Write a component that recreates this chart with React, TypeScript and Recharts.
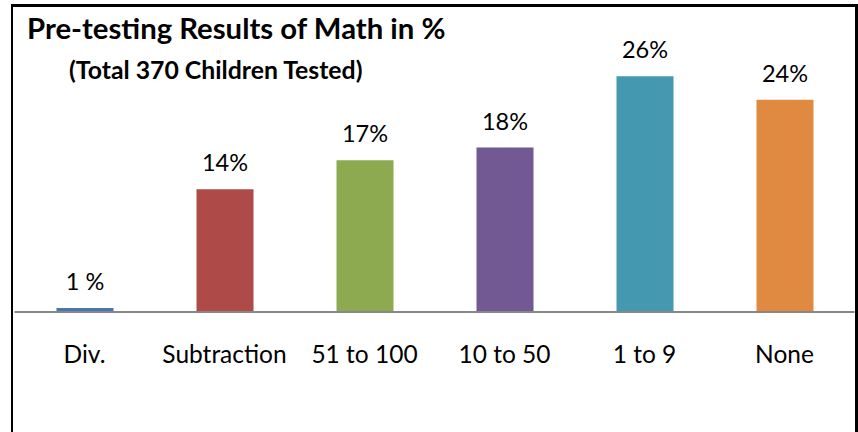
import React from 'react';
import { BarChart, Bar, XAxis, YAxis, Cell, LabelList } from 'recharts';

const categories = ['Div.', 'Subtraction', '51 to 100', '10 to 50', '1 to 9', 'None'];
const percentValues = [0.45, 13.6, 16.8, 18.2, 26.1, 23.5];
const valueLabels = ['1 %', '14%', '17%', '18%', '26%', '24%'];
const barColors = ['#4A76AE', '#AE4A48', '#8DAA51', '#735993', '#4499B0', '#E08940'];

const data = categories.map((name, i) => ({ name, value: percentValues[i], label: valueLabels[i] }));

const FONT = 'Lato, "Open Sans", sans-serif';

const App: React.FC = () => {
  return (
    <div style={{ position: 'absolute', left: 0, top: 0, width: 858, height: 432, background: '#fff', fontFamily: FONT }}>
      {/* frame: no bottom edge in the original */}
      <div
        style={{
          position: 'absolute',
          left: 11,
          top: 4,
          width: 842,
          height: 432,
          borderLeft: '2px solid #000',
          borderTop: '3px solid #000',
          borderRight: '3px solid #000',
          boxSizing: 'content-box',
        }}
      />
      <BarChart
        width={858}
        height={432}
        data={data}
        margin={{ top: 41, right: 3.5, left: 14.5, bottom: 0 }}
        barCategoryGap={0}
      >
        <YAxis hide domain={[0, 30]} />
        <XAxis
          dataKey="name"
          height={120}
          stroke="#878787"
          strokeWidth={2}
          tickLine={false}
          tickMargin={28}
          tick={{ fill: '#000', fontSize: 24.5, fontFamily: FONT }}
          interval={0}
        />
        <Bar dataKey="value" barSize={57} isAnimationActive={false}>
          {data.map((entry, index) => (
            <Cell key={`cell-${index}`} fill={barColors[index]} />
          ))}
          <LabelList dataKey="label" position="top" offset={18} fill="#000" fontSize={23.5} fontFamily={FONT} />
        </Bar>
      </BarChart>
      <div
        style={{
          position: 'absolute',
          left: 27,
          top: 11,
          fontWeight: 700,
          fontSize: 29.3,
          lineHeight: '34px',
          color: '#000',
          whiteSpace: 'nowrap',
        }}
      >
        Pre-testing Results of Math in %
      </div>
      <div
        style={{
          position: 'absolute',
          left: 69,
          top: 55,
          fontWeight: 700,
          fontSize: 24.8,
          lineHeight: '30px',
          color: '#000',
          whiteSpace: 'nowrap',
        }}
      >
        (Total 370 Children Tested)
      </div>
    </div>
  );
};

export default App;
